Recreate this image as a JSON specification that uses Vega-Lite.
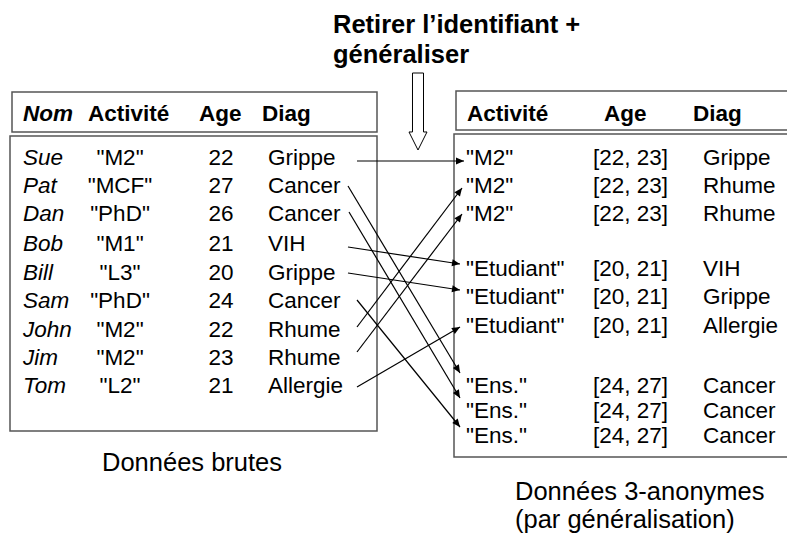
{
  "$schema": "https://vega.github.io/schema/vega-lite/v6.json",
  "width": 787,
  "height": 533,
  "autosize": {"type": "none"},
  "padding": 0,
  "background": "white",
  "config": {"view": {"stroke": null}, "font": "Liberation Sans"},
  "datasets": {
    "cadres": [
      {"cadre": "en-tête brutes", "x1": 12, "x2": 377, "y1": 92, "y2": 132},
      {"cadre": "corps brutes", "x1": 10, "x2": 377, "y1": 136, "y2": 431},
      {"cadre": "en-tête anonymes", "x1": 456, "x2": 900, "y1": 91, "y2": 130},
      {"cadre": "corps anonymes", "x1": 454, "x2": 900, "y1": 134, "y2": 457}
    ],
    "brutes": [
      {"nom": "Sue", "activite": "\"M2\"", "age": "22", "diag": "Grippe", "ligne": 165},
      {"nom": "Pat", "activite": "\"MCF\"", "age": "27", "diag": "Cancer", "ligne": 193},
      {"nom": "Dan", "activite": "\"PhD\"", "age": "26", "diag": "Cancer", "ligne": 221},
      {"nom": "Bob", "activite": "\"M1\"", "age": "21", "diag": "VIH", "ligne": 251},
      {"nom": "Bill", "activite": "\"L3\"", "age": "20", "diag": "Grippe", "ligne": 280},
      {"nom": "Sam", "activite": "\"PhD\"", "age": "24", "diag": "Cancer", "ligne": 308},
      {"nom": "John", "activite": "\"M2\"", "age": "22", "diag": "Rhume", "ligne": 337},
      {"nom": "Jim", "activite": "\"M2\"", "age": "23", "diag": "Rhume", "ligne": 365},
      {"nom": "Tom", "activite": "\"L2\"", "age": "21", "diag": "Allergie", "ligne": 393}
    ],
    "anonymes": [
      {"activite": "\"M2\"", "age": "[22, 23]", "diag": "Grippe", "ligne": 165},
      {"activite": "\"M2\"", "age": "[22, 23]", "diag": "Rhume", "ligne": 193},
      {"activite": "\"M2\"", "age": "[22, 23]", "diag": "Rhume", "ligne": 221},
      {"activite": "\"Etudiant\"", "age": "[20, 21]", "diag": "VIH", "ligne": 276},
      {"activite": "\"Etudiant\"", "age": "[20, 21]", "diag": "Grippe", "ligne": 304},
      {"activite": "\"Etudiant\"", "age": "[20, 21]", "diag": "Allergie", "ligne": 333},
      {"activite": "\"Ens.\"", "age": "[24, 27]", "diag": "Cancer", "ligne": 393},
      {"activite": "\"Ens.\"", "age": "[24, 27]", "diag": "Cancer", "ligne": 418},
      {"activite": "\"Ens.\"", "age": "[24, 27]", "diag": "Cancer", "ligne": 443}
    ],
    "liens": [
      {"de": "Sue", "vers": "M2 Grippe", "x1": 357, "y1": 161, "x2": 464, "y2": 161},
      {"de": "Pat", "vers": "Ens. Cancer 1", "x1": 348, "y1": 186, "x2": 460, "y2": 373},
      {"de": "Dan", "vers": "Ens. Cancer 2", "x1": 349, "y1": 212, "x2": 460, "y2": 398},
      {"de": "Bob", "vers": "Etudiant VIH", "x1": 348, "y1": 247, "x2": 460, "y2": 264},
      {"de": "Bill", "vers": "Etudiant Grippe", "x1": 348, "y1": 273, "x2": 460, "y2": 290},
      {"de": "Sam", "vers": "Ens. Cancer 3", "x1": 357, "y1": 300, "x2": 460, "y2": 427},
      {"de": "John", "vers": "M2 Rhume 1", "x1": 357, "y1": 327, "x2": 462, "y2": 188},
      {"de": "Jim", "vers": "M2 Rhume 2", "x1": 357, "y1": 352, "x2": 462, "y2": 214},
      {"de": "Tom", "vers": "Etudiant Allergie", "x1": 357, "y1": 387, "x2": 460, "y2": 327}
    ]
  },
  "layer": [
    {
      "data": {"name": "cadres"},
      "mark": {"type": "rect", "fill": "transparent", "stroke": "#555555", "strokeWidth": 1.5, "clip": true},
      "encoding": {
        "x": {"field": "x1", "type": "quantitative", "scale": {"domain": [0, 787], "nice": false, "zero": false}, "axis": null},
        "x2": {"field": "x2"},
        "y": {"field": "y1", "type": "quantitative", "scale": {"domain": [0, 533], "nice": false, "zero": false, "reverse": true}, "axis": null},
        "y2": {"field": "y2"}
      }
    },
    {
      "data": {"name": "liens"},
      "mark": {"type": "rule", "color": "black", "strokeWidth": 1.2},
      "encoding": {
        "x": {"field": "x1", "type": "quantitative"},
        "x2": {"field": "x2"},
        "y": {"field": "y1", "type": "quantitative"},
        "y2": {"field": "y2"}
      }
    },
    {
      "data": {"name": "liens"},
      "transform": [{"calculate": "atan2(datum.y2 - datum.y1, datum.x2 - datum.x1) * 180 / PI", "as": "angle"}],
      "mark": {"type": "point", "shape": "M0,0 L-1,-0.44 L-1,0.44 Z", "filled": true, "color": "black", "opacity": 1, "size": 256, "strokeWidth": 0},
      "encoding": {
        "x": {"field": "x2", "type": "quantitative"},
        "y": {"field": "y2", "type": "quantitative"},
        "angle": {"field": "angle", "type": "quantitative", "scale": null}
      }
    },
    {
      "data": {"values": [{"forme": "flèche creuse"}]},
      "mark": {"type": "point", "shape": "M-0.143,-1 L0.143,-1 L0.143,0.532 L0.234,0.532 L0,1 L-0.234,0.532 L-0.143,0.532 Z", "filled": false, "stroke": "black", "strokeWidth": 1, "opacity": 1, "size": 5929},
      "encoding": {
        "x": {"datum": 418, "type": "quantitative"},
        "y": {"datum": 111.5, "type": "quantitative"}
      }
    },
    {
      "data": {"values": [{"texte": "Retirer l’identifiant +\ngénéraliser"}]},
      "mark": {"type": "text", "align": "left", "baseline": "alphabetic", "fontSize": 25.5, "fontWeight": "bold", "lineBreak": "\n", "lineHeight": 30},
      "encoding": {
        "x": {"datum": 333, "type": "quantitative"},
        "y": {"datum": 33, "type": "quantitative"},
        "text": {"field": "texte"}
      }
    },
    {
      "data": {"values": [{"texte": "Nom"}]},
      "mark": {"type": "text", "align": "left", "baseline": "alphabetic", "fontSize": 22.5, "fontWeight": "bold", "fontStyle": "italic"},
      "encoding": {"x": {"datum": 23, "type": "quantitative"}, "y": {"datum": 121, "type": "quantitative"}, "text": {"field": "texte"}}
    },
    {
      "data": {"values": [{"texte": "Activité"}]},
      "mark": {"type": "text", "align": "left", "baseline": "alphabetic", "fontSize": 22.5, "fontWeight": "bold"},
      "encoding": {"x": {"datum": 88, "type": "quantitative"}, "y": {"datum": 121, "type": "quantitative"}, "text": {"field": "texte"}}
    },
    {
      "data": {"values": [{"texte": "Age"}]},
      "mark": {"type": "text", "align": "left", "baseline": "alphabetic", "fontSize": 22.5, "fontWeight": "bold"},
      "encoding": {"x": {"datum": 199, "type": "quantitative"}, "y": {"datum": 121, "type": "quantitative"}, "text": {"field": "texte"}}
    },
    {
      "data": {"values": [{"texte": "Diag"}]},
      "mark": {"type": "text", "align": "left", "baseline": "alphabetic", "fontSize": 22.5, "fontWeight": "bold"},
      "encoding": {"x": {"datum": 262, "type": "quantitative"}, "y": {"datum": 121, "type": "quantitative"}, "text": {"field": "texte"}}
    },
    {
      "data": {"values": [{"texte": "Activité"}]},
      "mark": {"type": "text", "align": "left", "baseline": "alphabetic", "fontSize": 22.5, "fontWeight": "bold"},
      "encoding": {"x": {"datum": 467, "type": "quantitative"}, "y": {"datum": 121, "type": "quantitative"}, "text": {"field": "texte"}}
    },
    {
      "data": {"values": [{"texte": "Age"}]},
      "mark": {"type": "text", "align": "left", "baseline": "alphabetic", "fontSize": 22.5, "fontWeight": "bold"},
      "encoding": {"x": {"datum": 604, "type": "quantitative"}, "y": {"datum": 121, "type": "quantitative"}, "text": {"field": "texte"}}
    },
    {
      "data": {"values": [{"texte": "Diag"}]},
      "mark": {"type": "text", "align": "left", "baseline": "alphabetic", "fontSize": 22.5, "fontWeight": "bold"},
      "encoding": {"x": {"datum": 693, "type": "quantitative"}, "y": {"datum": 121, "type": "quantitative"}, "text": {"field": "texte"}}
    },
    {
      "data": {"name": "brutes"},
      "mark": {"type": "text", "align": "left", "baseline": "alphabetic", "fontSize": 22.5, "fontStyle": "italic"},
      "encoding": {"x": {"datum": 23, "type": "quantitative"}, "y": {"field": "ligne", "type": "quantitative"}, "text": {"field": "nom"}}
    },
    {
      "data": {"name": "brutes"},
      "mark": {"type": "text", "align": "center", "baseline": "alphabetic", "fontSize": 22.5},
      "encoding": {"x": {"datum": 120, "type": "quantitative"}, "y": {"field": "ligne", "type": "quantitative"}, "text": {"field": "activite"}}
    },
    {
      "data": {"name": "brutes"},
      "mark": {"type": "text", "align": "center", "baseline": "alphabetic", "fontSize": 22.5},
      "encoding": {"x": {"datum": 221, "type": "quantitative"}, "y": {"field": "ligne", "type": "quantitative"}, "text": {"field": "age"}}
    },
    {
      "data": {"name": "brutes"},
      "mark": {"type": "text", "align": "left", "baseline": "alphabetic", "fontSize": 22.5},
      "encoding": {"x": {"datum": 268, "type": "quantitative"}, "y": {"field": "ligne", "type": "quantitative"}, "text": {"field": "diag"}}
    },
    {
      "data": {"name": "anonymes"},
      "mark": {"type": "text", "align": "left", "baseline": "alphabetic", "fontSize": 22.5},
      "encoding": {"x": {"datum": 466, "type": "quantitative"}, "y": {"field": "ligne", "type": "quantitative"}, "text": {"field": "activite"}}
    },
    {
      "data": {"name": "anonymes"},
      "mark": {"type": "text", "align": "left", "baseline": "alphabetic", "fontSize": 22.5},
      "encoding": {"x": {"datum": 593, "type": "quantitative"}, "y": {"field": "ligne", "type": "quantitative"}, "text": {"field": "age"}}
    },
    {
      "data": {"name": "anonymes"},
      "mark": {"type": "text", "align": "left", "baseline": "alphabetic", "fontSize": 22.5},
      "encoding": {"x": {"datum": 703, "type": "quantitative"}, "y": {"field": "ligne", "type": "quantitative"}, "text": {"field": "diag"}}
    },
    {
      "data": {"values": [{"texte": "Données brutes"}]},
      "mark": {"type": "text", "align": "left", "baseline": "alphabetic", "fontSize": 25.5},
      "encoding": {"x": {"datum": 102, "type": "quantitative"}, "y": {"datum": 471, "type": "quantitative"}, "text": {"field": "texte"}}
    },
    {
      "data": {"values": [{"texte": "Données 3-anonymes\n(par généralisation)"}]},
      "mark": {"type": "text", "align": "left", "baseline": "alphabetic", "fontSize": 25.5, "lineBreak": "\n", "lineHeight": 28},
      "encoding": {"x": {"datum": 515, "type": "quantitative"}, "y": {"datum": 500, "type": "quantitative"}, "text": {"field": "texte"}}
    }
  ]
}
